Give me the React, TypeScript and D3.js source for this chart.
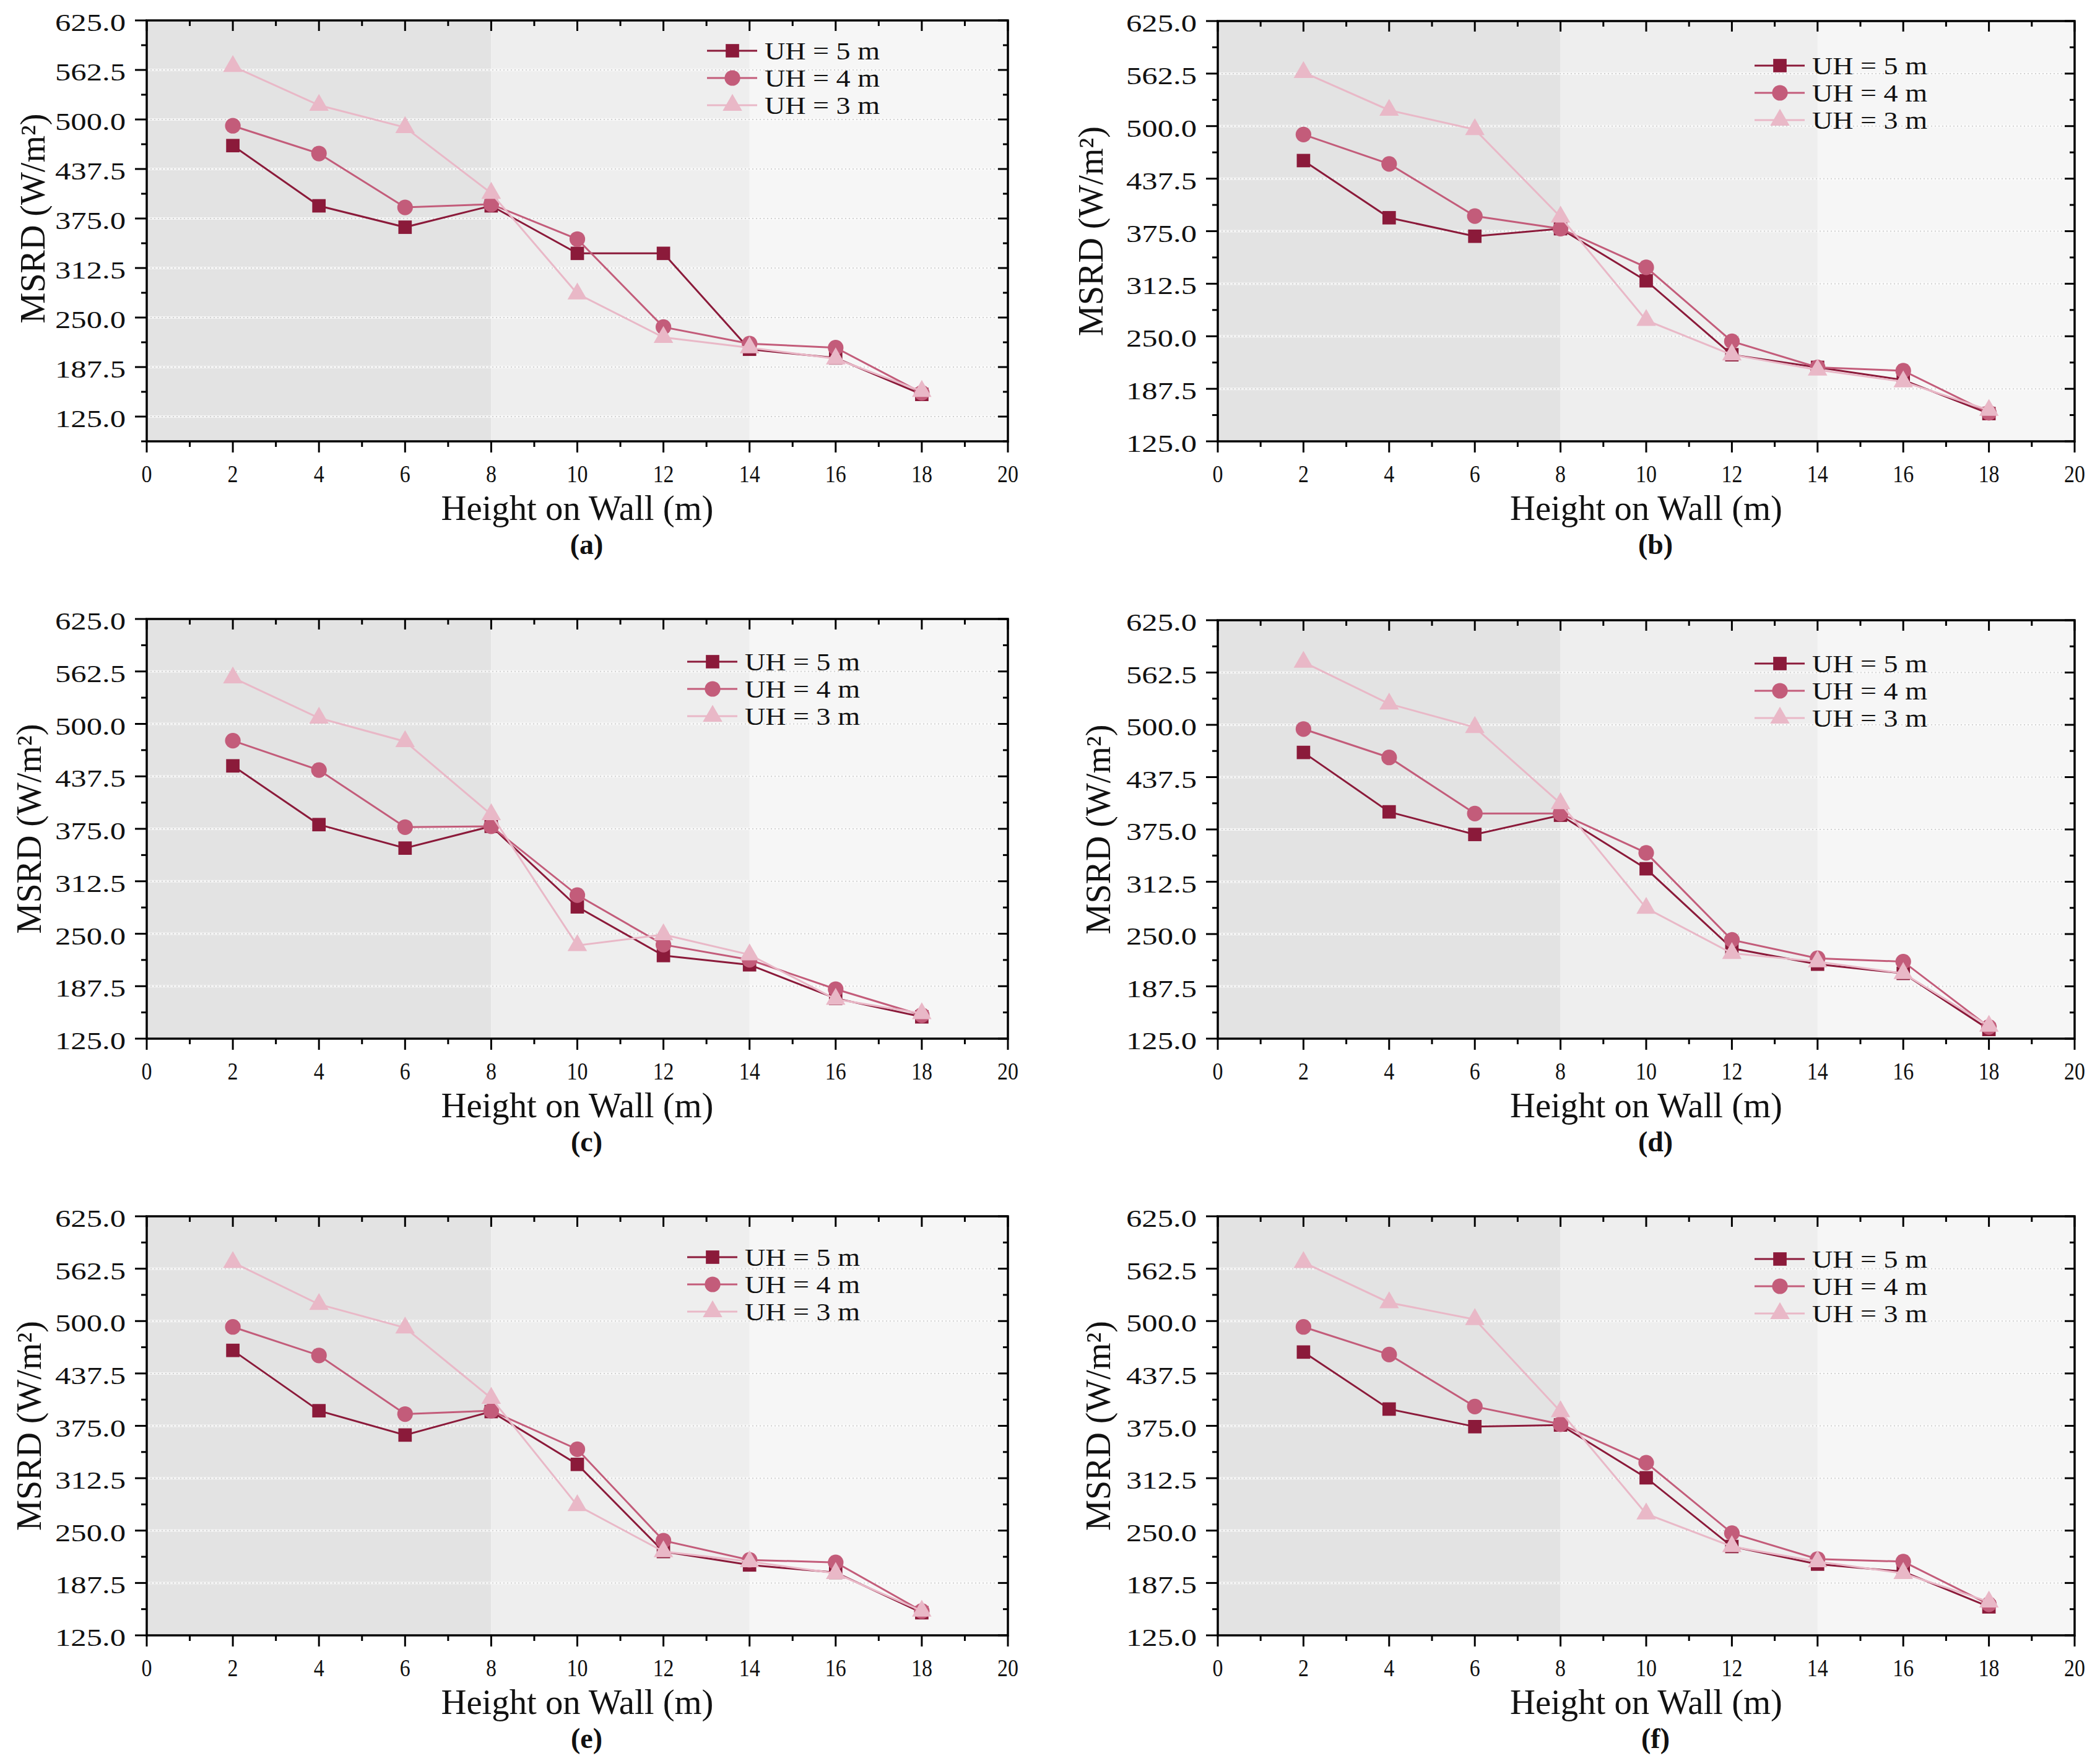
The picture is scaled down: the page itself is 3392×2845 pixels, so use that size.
import React from 'react'
import * as d3 from 'd3'

// heights on the wall (m)
const heights = [2, 4, 6, 8, 10, 12, 14, 16, 18]

// (a)
const aUH5 = [467, 391, 364, 391, 331, 331, 210, 199, 153]
const aUH4 = [492, 457, 389, 393, 349, 238, 217, 212, 155]
const aUH3 = [567, 518, 490, 407, 280, 225, 212, 198, 157]
// (b)
const bUH5 = [459, 391, 369, 378, 316, 228, 213, 198, 158]
const bUH4 = [490, 455, 393, 378, 332, 244, 213, 209, 159]
const bUH3 = [564, 519, 496, 392, 269, 228, 210, 196, 162]
// (c)
const cUH5 = [450, 380, 352, 378, 282, 224, 213, 173, 151]
const cUH4 = [480, 445, 377, 378, 296, 237, 219, 184, 153]
const cUH3 = [555, 507, 479, 392, 236, 249, 225, 172, 155]
// (d)
const dUH5 = [467, 396, 369, 392, 328, 233, 214, 203, 136]
const dUH4 = [495, 461, 394, 394, 347, 243, 221, 217, 139]
const dUH3 = [575, 525, 497, 406, 281, 227, 217, 203, 140]
// (e)
const eUH5 = [465, 393, 364, 392, 329, 225, 209, 200, 152]
const eUH4 = [493, 459, 389, 393, 347, 238, 215, 212, 154]
const eUH3 = [570, 520, 492, 408, 280, 225, 213, 199, 154]
// (f)
const fUH5 = [463, 395, 374, 376, 313, 231, 210, 201, 159]
const fUH4 = [493, 460, 398, 377, 331, 247, 216, 213, 162]
const fUH3 = [570, 522, 502, 392, 270, 231, 213, 199, 165]

const seriesNames = ['UH = 5 m', 'UH = 4 m', 'UH = 3 m']
const panelLetters = ['(a)', '(b)', '(c)', '(d)', '(e)', '(f)']
const panelData = [
  [aUH5, aUH4, aUH3],
  [bUH5, bUH4, bUH3],
  [cUH5, cUH4, cUH3],
  [dUH5, dUH4, dUH3],
  [eUH5, eUH4, eUH3],
  [fUH5, fUH4, fUH3],
]
const yMins = [93.75, 125, 125, 125, 125, 125]
const yMax = 625
const yMajor = [125, 187.5, 250, 312.5, 375, 437.5, 500, 562.5, 625]
const xMajor = [0, 2, 4, 6, 8, 10, 12, 14, 16, 18, 20]
const zoneEdges = [0, 8, 14, 20]

const zoneFills = ['#e3e3e3', '#eeeeee', '#f6f6f6']
const colors = ['#8b1a3a', '#c35c7a', '#e9b8c7']
const symbols = [d3.symbolSquare, d3.symbolCircle, d3.symbolTriangle]
const symbolSizes = [470, 500, 430]
const FONT = "'Liberation Serif', 'Times New Roman', serif"

const boxes = [
  { left: 237, right: 1628, top: 33, bottom: 713, legX: 905, legY: 49, yTitle: 165 },
  { left: 1967, right: 3351, top: 34, bottom: 713, legX: 867, legY: 72, yTitle: 186 },
  { left: 237, right: 1628, top: 1000, bottom: 1678, legX: 873, legY: 69, yTitle: 171 },
  { left: 1967, right: 3351, top: 1002, bottom: 1678, legX: 867, legY: 70, yTitle: 174 },
  { left: 237, right: 1628, top: 1965, bottom: 2642, legX: 873, legY: 66, yTitle: 171 },
  { left: 1967, right: 3351, top: 1965, bottom: 2642, legX: 867, legY: 69, yTitle: 174 },
]

type Box = typeof boxes[number]

const Panel = ({ series, yMin, letter, box }: { series: number[][]; yMin: number; letter: string; box: Box }) => {
  const { left, right, top, bottom } = box
  const x = d3.scaleLinear().domain([0, 20]).range([left, right])
  const y = d3.scaleLinear().domain([yMin, yMax]).range([bottom, top])
  const line = d3.line<number>().x((_, i) => x(heights[i])).y(d => y(d))
  const xMinor = d3.range(1, 20, 2)
  const yMinor = d3.range(yMin, yMax + 0.01, 31.25).filter(v => !yMajor.includes(v))
  const cx = (left + right) / 2

  return (
    <g>
      {zoneFills.map((f, i) => (
        <rect key={i} x={x(zoneEdges[i])} y={top} width={x(zoneEdges[i + 1]) - x(zoneEdges[i])} height={bottom - top} fill={f} />
      ))}
      {yMajor.map(v => (
        <g key={v}>
          <line x1={left} x2={right} y1={y(v)} y2={y(v)} stroke="#ffffff" strokeOpacity={0.6} strokeWidth={4} />
          <line x1={left} x2={right} y1={y(v)} y2={y(v)} stroke="#d2d2d2" strokeWidth={2} strokeDasharray="2 4" />
        </g>
      ))}

      {series.map((vals, s) => (
        <g key={s}>
          <path d={line(vals) || ''} fill="none" stroke={colors[s]} strokeWidth={3} />
          {vals.map((v, i) => (
            <path key={i} d={d3.symbol(symbols[s], symbolSizes[s])() || ''} transform={`translate(${x(heights[i])},${y(v)})`} fill={colors[s]} />
          ))}
        </g>
      ))}

      {/* frame */}
      <rect x={left} y={top} width={right - left} height={bottom - top} fill="none" stroke="#000" strokeWidth={3.5} />

      {/* x ticks */}
      {xMajor.map(v => (
        <g key={v}>
          <line x1={x(v)} x2={x(v)} y1={bottom} y2={bottom + 18} stroke="#000" strokeWidth={3} />
          <line x1={x(v)} x2={x(v)} y1={top} y2={top + 17} stroke="#000" strokeWidth={3} />
          <text x={0} y={0} transform={`translate(${x(v)},${bottom + 66}) scale(0.87,1)`} textAnchor="middle" fontSize={39} fontFamily={FONT} fill="#111">{v}</text>
        </g>
      ))}
      {xMinor.map(v => (
        <g key={v}>
          <line x1={x(v)} x2={x(v)} y1={bottom} y2={bottom + 9} stroke="#000" strokeWidth={3} />
          <line x1={x(v)} x2={x(v)} y1={top} y2={top + 9} stroke="#000" strokeWidth={3} />
        </g>
      ))}

      {/* y ticks */}
      {yMajor.map(v => (
        <g key={v}>
          <line x1={left - 19} x2={left} y1={y(v)} y2={y(v)} stroke="#000" strokeWidth={3} />
          <line x1={right - 16} x2={right} y1={y(v)} y2={y(v)} stroke="#000" strokeWidth={3} />
          <text x={0} y={0} transform={`translate(${left - 34},${y(v) + 17}) scale(1.3,1)`} textAnchor="end" fontSize={39} fontFamily={FONT} fill="#111">{d3.format('.1f')(v)}</text>
        </g>
      ))}
      {yMinor.map(v => (
        <g key={v}>
          <line x1={left - 9} x2={left} y1={y(v)} y2={y(v)} stroke="#000" strokeWidth={3} />
          <line x1={right - 8} x2={right} y1={y(v)} y2={y(v)} stroke="#000" strokeWidth={3} />
        </g>
      ))}

      {/* titles */}
      <text x={cx} y={bottom + 127} textAnchor="middle" fontSize={58} fontFamily={FONT} textLength={440} lengthAdjust="spacingAndGlyphs" fill="#111">Height on Wall (m)</text>
      <text x={cx + 15} y={bottom + 182} textAnchor="middle" fontSize={46} fontWeight="bold" fontFamily={FONT} fill="#111">{letter}</text>
      <text transform={`translate(${left - box.yTitle},${(top + y(125)) / 2}) rotate(-90)`} textAnchor="middle" fontSize={56} fontFamily={FONT} fill="#111">MSRD (W/m²)</text>

      {/* legend */}
      {seriesNames.map((name, s) => {
        const lx = left + box.legX
        const ly = top + box.legY + s * 44
        return (
          <g key={name}>
            <line x1={lx} x2={lx + 81} y1={ly} y2={ly} stroke={colors[s]} strokeWidth={3} />
            <path d={d3.symbol(symbols[s], symbolSizes[s])() || ''} transform={`translate(${lx + 41},${ly})`} fill={colors[s]} />
            <text x={lx + 93} y={ly + 14} fontSize={39} fontFamily={FONT} textLength={186} lengthAdjust="spacingAndGlyphs" fill="#111">{name}</text>
          </g>
        )
      })}
    </g>
  )
}

const App = () => (
  <svg width={3392} height={2845} style={{ position: 'absolute', left: 0, top: 0, background: '#fff' }}>
    {panelData.map((series, i) => (
      <Panel key={i} series={series} yMin={yMins[i]} letter={panelLetters[i]} box={boxes[i]} />
    ))}
  </svg>
)

export default App
